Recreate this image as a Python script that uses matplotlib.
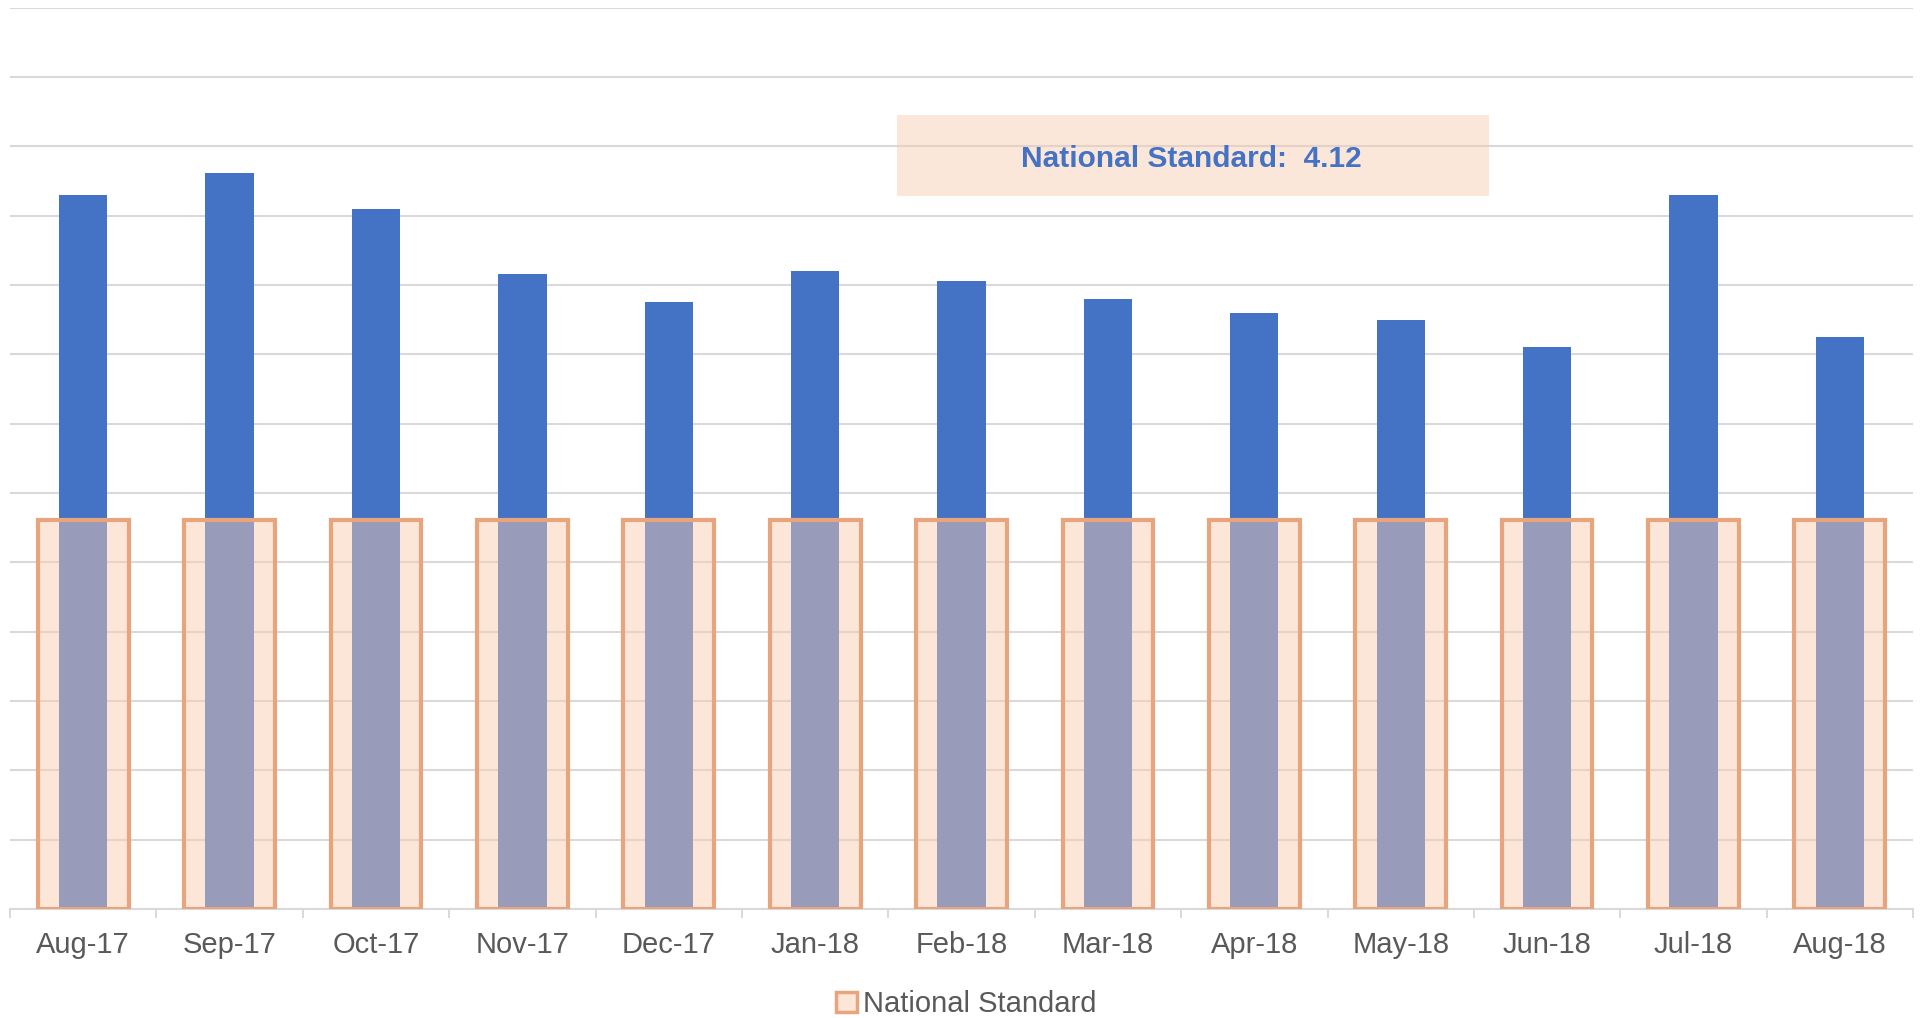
import matplotlib
matplotlib.use("Agg")
import matplotlib.pyplot as plt
from matplotlib.patches import Patch, Rectangle
import numpy as np

plt.rcParams['font.family'] = ['Liberation Sans', 'DejaVu Sans']

# values (blue series in gridline units, standard on its own scale)
months = ["Aug-17", "Sep-17", "Oct-17", "Nov-17", "Dec-17", "Jan-18", "Feb-18",
          "Mar-18", "Apr-18", "May-18", "Jun-18", "Jul-18", "Aug-18"]
monthly = [10.30, 10.61, 10.10, 9.15, 8.76, 9.20, 9.05, 8.80, 8.60, 8.50, 8.11, 10.30, 8.25]
national_standard = 4.12
standard = [national_standard] * len(months)

blue = "#4472C4"
peach = "#F8CBAD"
edge = "#E8A47C"
grid_col = "#D9D9D9"
text_col = "#595959"

fig = plt.figure(figsize=(19.25, 10.18), dpi=100)
ax = fig.add_axes([0.0052, 0.1071, 0.9886, 0.8855])
x = np.arange(len(months))

ax.bar(x, monthly, width=0.33, color=blue, zorder=2)
ax.set_xlim(-0.5, len(months) - 0.5)
ax.set_ylim(0, 13)
ax.set_yticks(np.arange(0, 14, 1))
ax.yaxis.grid(True, color=grid_col, linewidth=1.5)
ax.set_axisbelow(True)
for s in ["top", "left", "right"]:
    ax.spines[s].set_visible(False)
ax.spines["bottom"].set_color(grid_col)
ax.spines["bottom"].set_linewidth(1.5)

ax.set_xticks(x)
ax.set_xticklabels(months, fontsize=21, color=text_col)
ax.tick_params(axis='x', which='major', length=0, pad=16)
ax.set_xticks(np.arange(-0.5, len(months)), minor=True)
ax.tick_params(axis='x', which='minor', length=6.2, width=1.4, color=grid_col)

# national standard on a secondary scale
ax2 = ax.twinx()
ax2.set_ylim(0, national_standard * 13 / 5.61)
ax2.bar(x, standard, width=0.62, facecolor=(0.973, 0.796, 0.678, 0.47),
        edgecolor=edge, linewidth=3, zorder=3)
ax2.axis('off')
# twinx switches the left ticks back on
ax.tick_params(axis='y', which='both', left=False, right=False,
               labelleft=False, labelright=False)

ax2.add_patch(Rectangle((0.466, 0.791), 0.311, 0.09, transform=ax2.transAxes,
                        facecolor=peach, alpha=0.45, edgecolor='none', zorder=4))
ax2.text(0.621, 0.832, "National Standard:  %.2f" % national_standard,
         transform=ax2.transAxes, ha='center', va='center', fontsize=21.5,
         fontweight='bold', color=blue, zorder=5)

handle = Patch(facecolor=(0.973, 0.796, 0.678, 0.47), edgecolor=edge, linewidth=2.5)
fig.legend(handles=[handle], labels=["National Standard"], loc='center',
           bbox_to_anchor=(0.502, 0.0135), frameon=False, fontsize=21,
           labelcolor=text_col, handlelength=0.7, handleheight=0.7,
           handletextpad=0.2)

fig.savefig("out.png", dpi=100)
